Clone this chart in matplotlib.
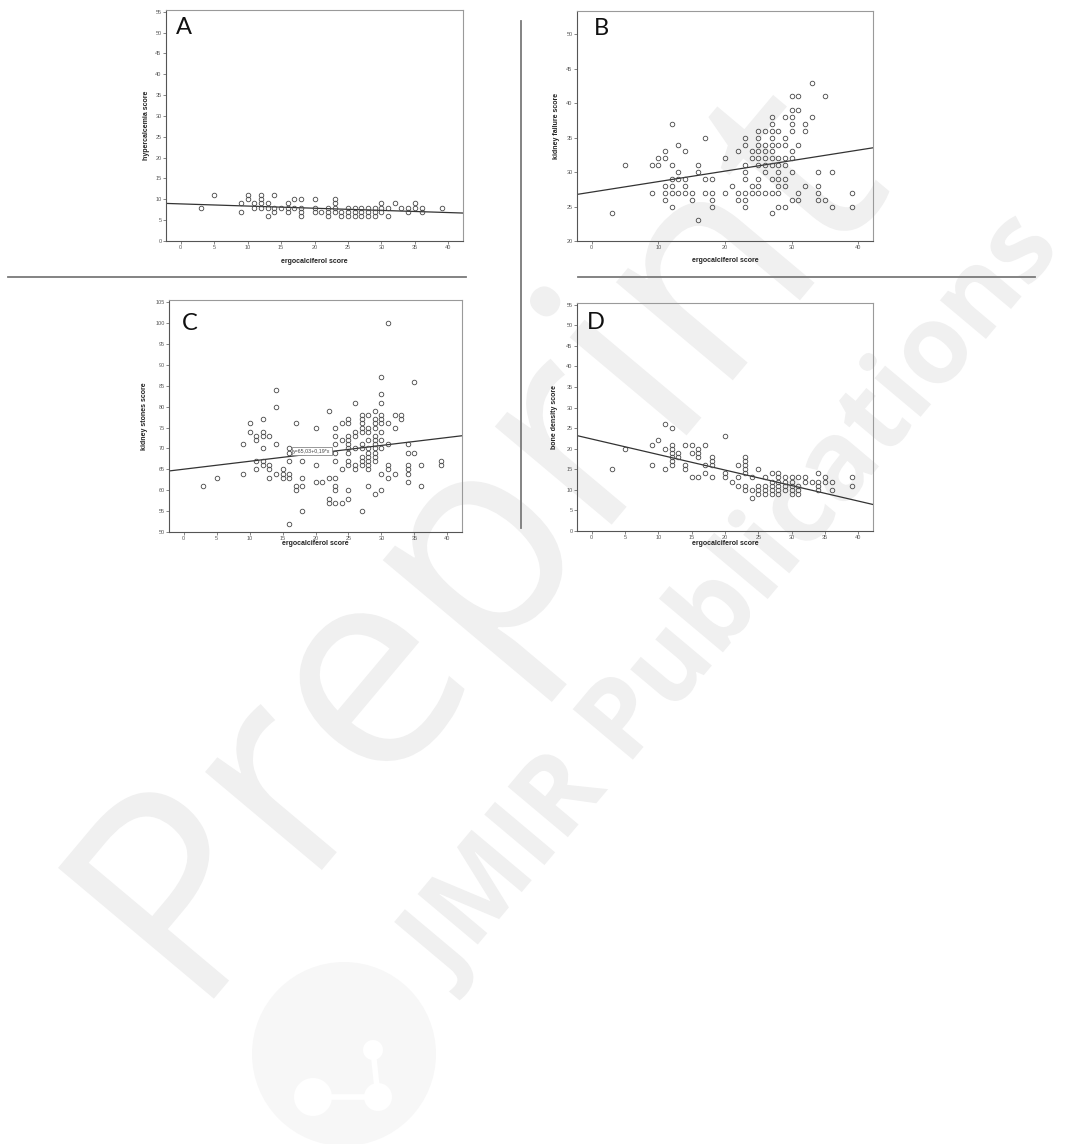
"""
Four SPSS-style scatter panels (A-D): ergocalciferol score against
hypercalcemia, kidney failure, kidney stones and bone density scores,
each with its fitted line, on a page carrying the preprint watermark.
"""

import matplotlib
matplotlib.use("Agg")
import matplotlib.pyplot as plt
import numpy as np
from matplotlib.font_manager import FontProperties
from matplotlib.lines import Line2D
from matplotlib.patches import Circle, PathPatch
from matplotlib.text import TextPath
from matplotlib.transforms import Affine2D, IdentityTransform

W, H = 1070, 1144

# ----- data: ergocalciferol score columns and the scores stacked on each -----
SCORE_COLS = [3, 5, 9, 10, 11, 12, 13, 14, 15, 16, 17, 18, 20, 21, 22, 23,
              24, 25, 26, 27, 28, 29, 30, 31, 32, 33, 34, 35, 36, 39]

HYPERCALCEMIA = [[8], [11], [9, 7], [11, 10], [9, 8], [11, 10, 9, 8], [9, 8, 6],
                 [11, 8, 7], [8], [9, 8, 7], [10, 8], [10, 8, 7, 6], [10, 8, 7],
                 [7], [8, 7, 6], [10, 9, 8, 7], [7, 6], [8, 7, 6], [8, 7, 6],
                 [8, 7, 6], [8, 7, 6], [8, 7, 6], [9, 8, 7], [8, 6], [9], [8],
                 [8, 7], [9, 8], [8, 7], [8]]

KIDNEY_FAILURE = [[24], [31], [31, 27], [32, 31], [33, 32, 28, 27, 26],
                  [37, 31, 29, 28, 27, 25], [34, 30, 29, 27], [33, 29, 28, 27],
                  [27, 26], [31, 30, 23], [35, 29, 27], [29, 27, 26, 25],
                  [32, 27], [28], [33, 27, 26],
                  [35, 34, 31, 30, 29, 27, 26, 25], [33, 32, 28, 27],
                  [36, 35, 34, 33, 32, 31, 29, 28, 27],
                  [36, 34, 33, 32, 31, 30, 27],
                  [38, 37, 36, 35, 34, 33, 32, 31, 29, 27, 24],
                  [36, 34, 32, 31, 30, 29, 28, 27, 25],
                  [38, 35, 34, 32, 31, 29, 28, 25],
                  [41, 39, 38, 37, 36, 33, 32, 30, 26],
                  [41, 39, 34, 27, 26], [37, 36, 28], [43, 38],
                  [30, 28, 27, 26], [41, 26], [30, 25], [27, 25]]

KIDNEY_STONES = [[61], [63], [71, 64], [76, 74], [73, 72, 67, 65],
                 [77, 74, 73, 70, 67, 66], [73, 66, 65, 63], [84, 80, 71, 64],
                 [65, 64, 63], [70, 69, 67, 64, 63, 52], [76, 61, 60],
                 [67, 63, 61, 55], [75, 66, 62], [62], [79, 63, 58, 57],
                 [75, 73, 71, 69, 67, 63, 61, 60, 57], [76, 72, 65, 57],
                 [77, 76, 73, 72, 71, 70, 69, 67, 66, 60, 58],
                 [81, 74, 73, 70, 66, 65],
                 [78, 77, 76, 75, 74, 71, 70, 68, 67, 66, 55],
                 [78, 75, 74, 72, 70, 69, 68, 67, 66, 65, 61],
                 [79, 77, 76, 75, 73, 72, 71, 70, 69, 68, 67, 59],
                 [87, 83, 81, 78, 77, 76, 74, 72, 70, 64, 60],
                 [100, 76, 71, 66, 65, 63], [78, 75, 64], [78, 77],
                 [71, 69, 66, 65, 64, 62], [86, 69], [66, 61], [67, 66]]

BONE_DENSITY = [[15], [20], [21, 16], [22], [26, 20, 15],
                [25, 21, 20, 19, 18, 17, 16], [19, 18], [21, 16, 15],
                [21, 19, 13], [20, 19, 18, 13], [21, 16, 14], [18, 17, 16, 13],
                [23, 14, 13], [12], [16, 13, 11],
                [18, 17, 16, 15, 14, 11, 10], [13, 10, 8], [15, 11, 10, 9],
                [13, 11, 10, 9], [14, 12, 11, 10, 9], [14, 13, 12, 11, 10, 9],
                [13, 12, 11, 10], [13, 12, 11, 10, 9], [13, 11, 10, 9],
                [13, 12], [12], [14, 12, 11, 10], [13, 12], [12, 10], [13, 11]]

# fitted lines (intercept, slope)
FIT_A = (8.9, -0.052)
FIT_B = (27.1, 0.1525)
FIT_C = (65.03, 0.19)
FIT_D = (22.35, -0.377)

FIT_C_LABEL = "y=65,03+0,19*x"

# ----- styling -----
INK = "#333333"
MARK = "#474747"
FRAME_DARK = "#555555"
FRAME_LIGHT = "#9a9a9a"
TICK_TXT = "#5a5a5a"
SEP = "#7a7a7a"
WM = "#f0f0f0"
LOGO = "#f7f7f7"
XLIM = (-2.2, 42.2)

# panel boxes in image pixels: left, top, right, bottom
PANELS = [
    dict(letter="A", ylabel="hypercalcemia score", ys=HYPERCALCEMIA, fit=FIT_A,
         box=(166, 10, 463, 241), ylim=(0, 55.4), yticks=range(0, 56, 5),
         xticks=range(0, 41, 5), letter_xy=(176, 17), xlab_top=258,
         ylab_right=150),
    dict(letter="B", ylabel="kidney failure score", ys=KIDNEY_FAILURE, fit=FIT_B,
         box=(577, 11, 873, 241), ylim=(20, 53.4), yticks=range(20, 51, 5),
         xticks=range(0, 41, 10), letter_xy=(594, 18), xlab_top=257,
         ylab_right=560),
    dict(letter="C", ylabel="kidney stones score", ys=KIDNEY_STONES, fit=FIT_C,
         box=(169, 300, 462, 532), ylim=(50, 105.55), yticks=range(50, 106, 5),
         xticks=range(0, 41, 5), letter_xy=(182, 313), xlab_top=540,
         ylab_right=148),
    dict(letter="D", ylabel="bone density score", ys=BONE_DENSITY, fit=FIT_D,
         box=(577, 303, 873, 531), ylim=(0, 55.4), yticks=range(0, 56, 5),
         xticks=range(0, 41, 5), letter_xy=(587, 312), xlab_top=540,
         ylab_right=558),
]


def fig_rect(left, top, right, bottom):
    return [left / W, 1 - bottom / H, (right - left) / W, (bottom - top) / H]


def add_text_path(fig, s, family, weight, em, angle, x0, y0):
    # watermark text drawn as a path in image pixels (y measured downwards)
    tp = TextPath((0, 0), s, size=1,
                  prop=FontProperties(family=family, weight=weight))
    tr = Affine2D().scale(em).rotate_deg(angle).translate(x0, H - y0)
    fig.add_artist(PathPatch(tr.transform_path(tp), facecolor=WM,
                             edgecolor="none", transform=IdentityTransform(),
                             zorder=-2))


def draw_watermark(fig):
    add_text_path(fig, "Preprint", "Open Sans", "normal", 285, 50, 196, 1020)
    add_text_path(fig, "JMIR Publications", "Open Sans", "bold", 110, 50, 448, 980)

    ident = IdentityTransform()
    fig.add_artist(Circle((344, H - 1054), 92, facecolor=LOGO, edgecolor="none",
                          transform=ident, zorder=-2))
    for (cx, cy, r) in [(373, 1050, 10), (313, 1097, 19), (378, 1097, 14)]:
        fig.add_artist(Circle((cx, H - cy), r, facecolor="white",
                              edgecolor="none", transform=ident, zorder=-1))
    fig.add_artist(Line2D([373, 378], [H - 1050, H - 1097], color="white",
                          lw=4, transform=ident, zorder=-1))
    fig.add_artist(Line2D([313, 378], [H - 1097, H - 1097], color="white",
                          lw=4, transform=ident, zorder=-1))


def draw_panel(fig, p):
    left, top, right, bottom = p["box"]
    wpx, hpx = right - left, bottom - top
    ax = fig.add_axes(fig_rect(*p["box"]))
    ax.set_facecolor("none")

    ys = p["ys"]
    xs = np.repeat(SCORE_COLS, [len(v) for v in ys])
    yv = np.concatenate([np.asarray(v, dtype=float) for v in ys])
    ax.plot(xs, yv, "o", ls="none", mfc="none", mec=MARK, ms=3.3, mew=0.6,
            zorder=3)

    b0, b1 = p["fit"]
    xx = np.array(XLIM)
    ax.plot(xx, b0 + b1 * xx, color=INK, lw=0.9, zorder=2)

    ax.set_xlim(*XLIM)
    ax.set_ylim(*p["ylim"])
    ax.set_xticks(list(p["xticks"]))
    ax.set_yticks(list(p["yticks"]))
    ax.tick_params(direction="out", length=2.2, width=0.5, colors=FRAME_DARK,
                   labelcolor=TICK_TXT, labelsize=4, pad=1)
    for lab in ax.get_xticklabels() + ax.get_yticklabels():
        lab.set_family("Liberation Sans")

    for side in ("left", "bottom"):
        ax.spines[side].set_color(FRAME_DARK)
        ax.spines[side].set_linewidth(0.8)
    for side in ("top", "right"):
        ax.spines[side].set_color(FRAME_LIGHT)
        ax.spines[side].set_linewidth(0.8)

    ax.set_xlabel("ergocalciferol score", fontsize=5, fontweight="bold",
                  family="Liberation Sans", color="#222")
    ax.xaxis.set_label_coords(0.5, -(p["xlab_top"] - bottom) / hpx)
    ax.set_ylabel(p["ylabel"], fontsize=5, fontweight="bold",
                  family="Liberation Sans", color="#222")
    ax.yaxis.set_label_coords(-(left - p["ylab_right"]) / wpx, 0.5)

    lx, ly = p["letter_xy"]
    fig.text(lx / W, 1 - ly / H, p["letter"], fontsize=17, family="Lato",
             ha="left", va="top", color="#111")

    if p["letter"] == "C":
        ax.text(16.6, 69.35, FIT_C_LABEL, fontsize=3.8, family="Liberation Sans",
                color="#444", ha="left", va="center", zorder=4,
                bbox=dict(boxstyle="square,pad=0.25", facecolor="white",
                          edgecolor="#888", linewidth=0.6))
    return ax


def draw_separators(fig):
    ident = IdentityTransform()
    for (x0, y0, x1, y1) in [(8, 277, 466, 277), (578, 277, 1035, 277),
                             (521, 21, 521, 528)]:
        fig.add_artist(Line2D([x0, x1], [H - y0, H - y1], color=SEP, lw=1.3,
                              transform=ident, zorder=1))


def main():
    fig = plt.figure(figsize=(W / 100, H / 100), dpi=100)
    fig.patch.set_facecolor("white")
    draw_watermark(fig)
    draw_separators(fig)
    for p in PANELS:
        draw_panel(fig, p)
    fig.savefig("out.png", dpi=100, facecolor="white")
    plt.close(fig)


if __name__ == "__main__":
    main()
